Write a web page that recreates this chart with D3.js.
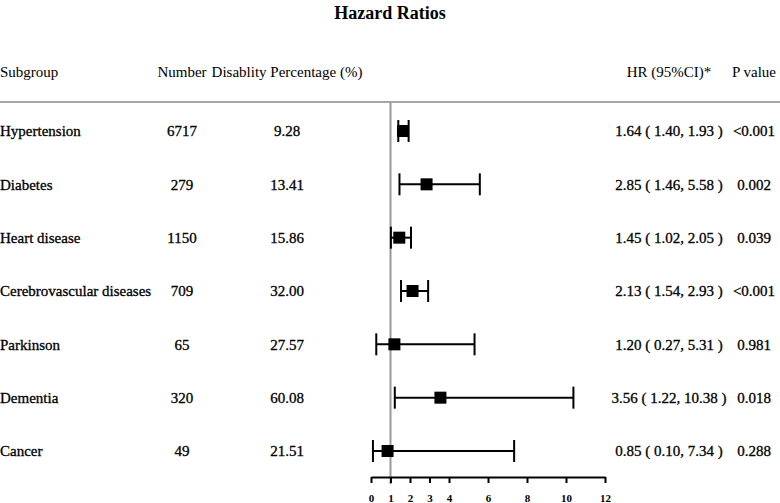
<!DOCTYPE html>
<html>
<head>
<meta charset="utf-8">
<script src="https://cdn.jsdelivr.net/npm/d3@7/dist/d3.min.js"></script>
<style>
  html, body { margin: 0; padding: 0; background: #fff; }
  svg { display: block; }
  text { font-family: "Liberation Serif", "Times New Roman", serif; fill: #000; }
</style>
</head>
<body>
<svg id="chart" width="780" height="503"></svg>
<script>
const subgroups = ["Hypertension", "Diabetes", "Heart disease", "Cerebrovascular diseases", "Parkinson", "Dementia", "Cancer"];
const numbers = [6717, 279, 1150, 709, 65, 320, 49];
const percentages = ["9.28", "13.41", "15.86", "32.00", "27.57", "60.08", "21.51"];
const hr = [1.64, 2.85, 1.45, 2.13, 1.20, 3.56, 0.85];
const lower = [1.40, 1.46, 1.02, 1.54, 0.27, 1.22, 0.10];
const upper = [1.93, 5.58, 2.05, 2.93, 5.31, 10.38, 7.34];
const pValues = ["<0.001", "0.002", "0.039", "<0.001", "0.981", "0.018", "0.288"];
const xTicks = [0, 1, 2, 3, 4, 6, 8, 10, 12];
const headers = ["Subgroup", "Number", "Disablity Percentage (%)", "HR (95%CI)*", "P value"];
const title = "Hazard Ratios";

const svg = d3.select("#chart");
const W = 780, H = 503;

const x = d3.scaleLinear().domain([0, 12]).range([371, 605]);
const y = d3.scalePoint().domain(subgroups).range([131, 451]);

const fmt2 = d3.format(".2f");

// Title
svg.append("text").attr("x", 390).attr("y", 13).attr("dy", "0.35em")
  .attr("text-anchor", "middle").attr("font-weight", "bold").attr("font-size", 18)
  .text(title);

// Header
const headerY = 72;
const colX = { sub: 0, num: 182, pct: 287, hr: 669, p: 754 };
const hdr = [
  { t: headers[0], x: colX.sub, a: "start" },
  { t: headers[1], x: colX.num, a: "middle" },
  { t: headers[2], x: colX.pct, a: "middle" },
  { t: headers[3], x: colX.hr, a: "middle" },
  { t: headers[4], x: colX.p, a: "middle" }
];
svg.selectAll("text.hdr").data(hdr).enter().append("text")
  .attr("class", "hdr")
  .attr("x", d => d.x).attr("y", headerY).attr("dy", "0.35em")
  .attr("text-anchor", d => d.a).attr("font-size", 15)
  .text(d => d.t);

// Header separator
svg.append("line").attr("x1", 0).attr("x2", W).attr("y1", 102).attr("y2", 102)
  .attr("stroke", "#a6a6a6").attr("stroke-width", 2);

// Reference line at HR = 1
svg.append("line").attr("x1", x(1)).attr("x2", x(1)).attr("y1", 103).attr("y2", 484)
  .attr("stroke", "#999").attr("stroke-width", 2);

// Rows
const rows = subgroups.map((s, i) => ({
  s, n: numbers[i], pct: percentages[i], hr: hr[i], lo: lower[i], hi: upper[i], p: pValues[i]
}));

const g = svg.selectAll("g.row").data(rows).enter().append("g").attr("class", "row")
  .attr("transform", d => `translate(0,${y(d.s)})`);

const rowText = (sel) => sel.attr("dy", "0.35em").attr("font-size", 15)
  .attr("stroke", "#000").attr("stroke-width", 0.3);

g.append("text").attr("x", colX.sub).attr("text-anchor", "start").call(rowText).text(d => d.s);
g.append("text").attr("x", colX.num).attr("text-anchor", "middle").call(rowText).text(d => d.n);
g.append("text").attr("x", colX.pct).attr("text-anchor", "middle").call(rowText).text(d => d.pct);
g.append("text").attr("x", colX.hr).attr("text-anchor", "middle").call(rowText)
  .text(d => `${fmt2(d.hr)} ( ${fmt2(d.lo)}, ${fmt2(d.hi)} )`);
g.append("text").attr("x", colX.p).attr("text-anchor", "middle").call(rowText).text(d => d.p);

// CI lines
g.append("line").attr("x1", d => x(d.lo)).attr("x2", d => x(d.hi)).attr("y1", 0).attr("y2", 0)
  .attr("stroke", "#000").attr("stroke-width", 2);
g.append("line").attr("x1", d => x(d.lo)).attr("x2", d => x(d.lo)).attr("y1", -11).attr("y2", 11)
  .attr("stroke", "#000").attr("stroke-width", 2);
g.append("line").attr("x1", d => x(d.hi)).attr("x2", d => x(d.hi)).attr("y1", -11).attr("y2", 11)
  .attr("stroke", "#000").attr("stroke-width", 2);
const sq = 12;
g.append("rect").attr("x", d => x(d.hr) - sq / 2).attr("y", -sq / 2)
  .attr("width", sq).attr("height", sq).attr("fill", "#000");

// Axis
const axis = d3.axisBottom(x).tickValues(xTicks).tickSize(6).tickSizeOuter(0).tickFormat(d3.format("d"));
const ax = svg.append("g").attr("transform", "translate(0,477)").call(axis);
ax.select(".domain").attr("stroke", "#000").attr("stroke-width", 2);
ax.selectAll(".tick line").attr("stroke", "#000").attr("stroke-width", 2);
ax.selectAll(".tick text").attr("font-family", "Liberation Serif, Times New Roman, serif")
  .attr("font-size", 11).attr("font-weight", "bold").attr("fill", "#000").attr("y", 21).attr("dy", "0.35em");
</script>
</body>
</html>
